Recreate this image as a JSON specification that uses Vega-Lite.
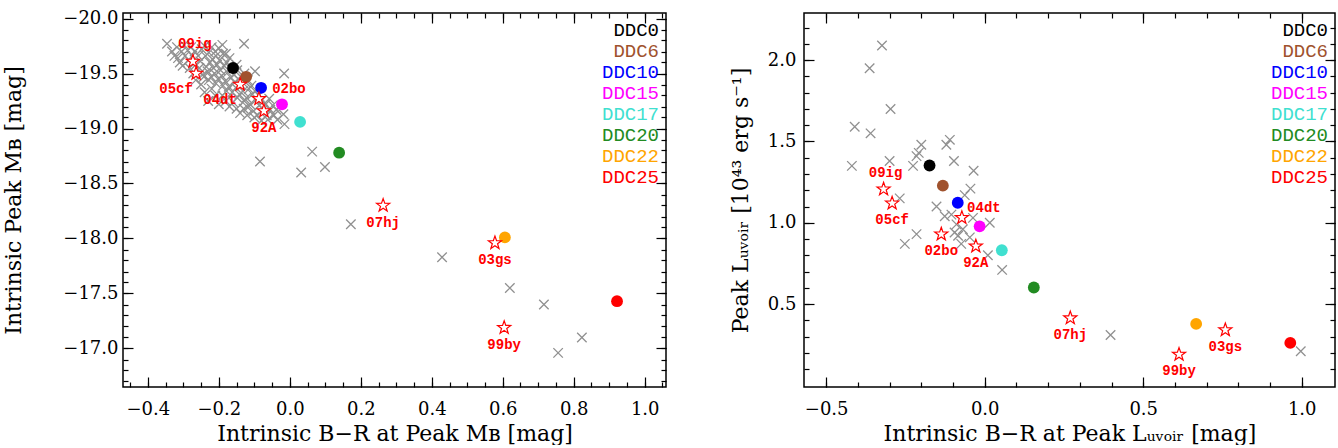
{
  "$schema": "https://vega.github.io/schema/vega-lite/v6.json",
  "padding": {"left": 1, "top": 8, "right": 2, "bottom": 0},
  "background": "white",
  "spacing": 138,
  "bounds": "flush",
  "config": {
    "view": {"stroke": "black", "strokeWidth": 1.5},
    "axis": {"labelFont": "DejaVu Serif", "titleFont": "DejaVu Serif", "labelFontSize": 18, "titleFontSize": 22, "labelColor": "black", "titleColor": "black", "titleFontWeight": "normal", "grid": false, "domain": false, "tickColor": "black", "tickWidth": 1.2, "labelFlush": false, "labelOverlap": false}
  },
  "resolve": {"legend": {"color": "independent"}},
  "datasets": {
    "ddc": [
      {"model": "DDC0", "xL": -0.160, "yL": -19.55, "xR": -0.174, "yR": 1.352},
      {"model": "DDC6", "xL": -0.123, "yL": -19.47, "xR": -0.132, "yR": 1.228},
      {"model": "DDC10", "xL": -0.081, "yL": -19.37, "xR": -0.085, "yR": 1.123},
      {"model": "DDC15", "xL": -0.022, "yL": -19.22, "xR": -0.016, "yR": 0.978},
      {"model": "DDC17", "xL": 0.029, "yL": -19.06, "xR": 0.054, "yR": 0.831},
      {"model": "DDC20", "xL": 0.139, "yL": -18.78, "xR": 0.155, "yR": 0.602},
      {"model": "DDC22", "xL": 0.606, "yL": -18.01, "xR": 0.667, "yR": 0.378},
      {"model": "DDC25", "xL": 0.922, "yL": -17.43, "xR": 0.964, "yR": 0.261}
    ],
    "sn": [
      {"sn": "09ig", "xL": -0.273, "yL": -19.61, "xR": -0.319, "yR": 1.207},
      {"sn": "05cf", "xL": -0.264, "yL": -19.50, "xR": -0.292, "yR": 1.120},
      {"sn": "04dt", "xL": -0.140, "yL": -19.40, "xR": -0.072, "yR": 1.031},
      {"sn": "02bo", "xL": -0.087, "yL": -19.27, "xR": -0.137, "yR": 0.930},
      {"sn": "92A", "xL": -0.073, "yL": -19.16, "xR": -0.028, "yR": 0.856},
      {"sn": "07hj", "xL": 0.263, "yL": -18.30, "xR": 0.270, "yR": 0.414},
      {"sn": "03gs", "xL": 0.578, "yL": -17.96, "xR": 0.759, "yR": 0.341},
      {"sn": "99by", "xL": 0.604, "yL": -17.19, "xR": 0.613, "yR": 0.190}
    ],
    "grayL": [
      {"x": -0.346, "y": -19.77}, {"x": -0.129, "y": -19.77}, {"x": -0.098, "y": -19.52}, {"x": -0.016, "y": -19.50},
      {"x": -0.084, "y": -18.70}, {"x": 0.063, "y": -18.79}, {"x": 0.099, "y": -18.65}, {"x": 0.032, "y": -18.60},
      {"x": 0.172, "y": -18.13}, {"x": 0.429, "y": -17.83}, {"x": 0.620, "y": -17.55}, {"x": 0.716, "y": -17.40},
      {"x": 0.823, "y": -17.10}, {"x": 0.756, "y": -16.96},
      {"x": -0.332, "y": -19.70}, {"x": -0.325, "y": -19.66}, {"x": -0.318, "y": -19.74}, {"x": -0.315, "y": -19.64},
      {"x": -0.305, "y": -19.70}, {"x": -0.310, "y": -19.60}, {"x": -0.298, "y": -19.76}, {"x": -0.295, "y": -19.66},
      {"x": -0.302, "y": -19.57}, {"x": -0.288, "y": -19.71}, {"x": -0.285, "y": -19.62}, {"x": -0.278, "y": -19.74},
      {"x": -0.275, "y": -19.66}, {"x": -0.282, "y": -19.55}, {"x": -0.268, "y": -19.70}, {"x": -0.265, "y": -19.58},
      {"x": -0.272, "y": -19.50}, {"x": -0.258, "y": -19.66}, {"x": -0.255, "y": -19.55}, {"x": -0.248, "y": -19.72},
      {"x": -0.252, "y": -19.61}, {"x": -0.245, "y": -19.49}, {"x": -0.238, "y": -19.66}, {"x": -0.235, "y": -19.56},
      {"x": -0.242, "y": -19.47}, {"x": -0.228, "y": -19.69}, {"x": -0.225, "y": -19.60}, {"x": -0.232, "y": -19.52},
      {"x": -0.228, "y": -19.44}, {"x": -0.218, "y": -19.63}, {"x": -0.215, "y": -19.55}, {"x": -0.222, "y": -19.47},
      {"x": -0.208, "y": -19.66}, {"x": -0.205, "y": -19.58}, {"x": -0.212, "y": -19.50}, {"x": -0.208, "y": -19.41},
      {"x": -0.198, "y": -19.62}, {"x": -0.195, "y": -19.53}, {"x": -0.202, "y": -19.45}, {"x": -0.188, "y": -19.68},
      {"x": -0.185, "y": -19.57}, {"x": -0.192, "y": -19.48}, {"x": -0.188, "y": -19.39}, {"x": -0.178, "y": -19.60},
      {"x": -0.175, "y": -19.51}, {"x": -0.182, "y": -19.43}, {"x": -0.178, "y": -19.34}, {"x": -0.168, "y": -19.55},
      {"x": -0.165, "y": -19.46}, {"x": -0.172, "y": -19.38}, {"x": -0.158, "y": -19.49}, {"x": -0.155, "y": -19.42},
      {"x": -0.162, "y": -19.33}, {"x": -0.148, "y": -19.53}, {"x": -0.145, "y": -19.45}, {"x": -0.152, "y": -19.37},
      {"x": -0.148, "y": -19.28}, {"x": -0.138, "y": -19.47}, {"x": -0.135, "y": -19.39}, {"x": -0.142, "y": -19.31},
      {"x": -0.128, "y": -19.50}, {"x": -0.125, "y": -19.42}, {"x": -0.132, "y": -19.34}, {"x": -0.128, "y": -19.25},
      {"x": -0.118, "y": -19.44}, {"x": -0.115, "y": -19.36}, {"x": -0.122, "y": -19.28}, {"x": -0.118, "y": -19.19},
      {"x": -0.108, "y": -19.39}, {"x": -0.105, "y": -19.31}, {"x": -0.112, "y": -19.22}, {"x": -0.098, "y": -19.34},
      {"x": -0.095, "y": -19.26}, {"x": -0.102, "y": -19.16}, {"x": -0.088, "y": -19.30}, {"x": -0.085, "y": -19.21},
      {"x": -0.092, "y": -19.12}, {"x": -0.078, "y": -19.26}, {"x": -0.075, "y": -19.17}, {"x": -0.068, "y": -19.22},
      {"x": -0.065, "y": -19.12}, {"x": -0.058, "y": -19.27}, {"x": -0.055, "y": -19.17}, {"x": -0.062, "y": -19.08},
      {"x": -0.048, "y": -19.21}, {"x": -0.045, "y": -19.12}, {"x": -0.038, "y": -19.17}, {"x": -0.035, "y": -19.08},
      {"x": -0.018, "y": -19.13}, {"x": -0.015, "y": -19.04},
      {"x": -0.240, "y": -19.75}, {"x": -0.220, "y": -19.74}, {"x": -0.200, "y": -19.73}, {"x": -0.190, "y": -19.76},
      {"x": -0.210, "y": -19.70}, {"x": -0.180, "y": -19.68}, {"x": -0.170, "y": -19.64}, {"x": -0.150, "y": -19.58},
      {"x": -0.250, "y": -19.40}, {"x": -0.230, "y": -19.25}, {"x": -0.240, "y": -19.33}, {"x": -0.220, "y": -19.36},
      {"x": -0.210, "y": -19.30}, {"x": -0.200, "y": -19.22}, {"x": -0.190, "y": -19.30}, {"x": -0.180, "y": -19.25},
      {"x": -0.170, "y": -19.20}, {"x": -0.160, "y": -19.24}, {"x": -0.150, "y": -19.18}, {"x": -0.140, "y": -19.14},
      {"x": -0.130, "y": -19.18}, {"x": -0.120, "y": -19.12}, {"x": -0.100, "y": -19.10}, {"x": -0.080, "y": -19.07},
      {"x": -0.265, "y": -19.44}
    ],
    "grayR": [
      {"x": -0.324, "y": 2.09}, {"x": -0.363, "y": 1.95}, {"x": -0.297, "y": 1.70}, {"x": -0.410, "y": 1.59},
      {"x": -0.360, "y": 1.55}, {"x": -0.419, "y": 1.35}, {"x": -0.300, "y": 1.38}, {"x": -0.200, "y": 1.48},
      {"x": -0.215, "y": 1.41}, {"x": -0.226, "y": 1.35}, {"x": -0.208, "y": 1.43}, {"x": -0.121, "y": 1.48},
      {"x": -0.110, "y": 1.51}, {"x": -0.097, "y": 1.38}, {"x": -0.035, "y": 1.32}, {"x": -0.045, "y": 1.21},
      {"x": -0.063, "y": 1.17}, {"x": -0.152, "y": 1.10}, {"x": -0.268, "y": 1.15}, {"x": -0.105, "y": 1.05},
      {"x": -0.215, "y": 0.93}, {"x": -0.252, "y": 0.87}, {"x": -0.095, "y": 0.94}, {"x": -0.084, "y": 0.92},
      {"x": -0.089, "y": 0.99}, {"x": -0.074, "y": 0.87}, {"x": -0.047, "y": 0.91}, {"x": 0.016, "y": 1.00},
      {"x": 0.010, "y": 0.80}, {"x": 0.055, "y": 0.71}, {"x": -0.037, "y": 1.03}, {"x": 0.397, "y": 0.31},
      {"x": 0.997, "y": 0.21}, {"x": -0.126, "y": 1.04}, {"x": -0.069, "y": 0.96}
    ]
  },
  "hconcat": [
    {
      "width": 543,
      "height": 374,
      "resolve": {"axis": {"x": "independent", "y": "independent"}},
      "layer": [
        {
          "data": {"name": "grayL"},
          "mark": {"type": "point", "shape": "M-1,-1L1,1M-1,1L1,-1", "filled": false, "stroke": "#909090", "strokeWidth": 1.3, "size": 90, "opacity": 1},
          "encoding": {
            "x": {"field": "x", "type": "quantitative", "scale": {"domain": [-0.47, 1.06], "nice": false, "zero": false},
              "axis": {"orient": "bottom", "values": [-0.4, -0.2, 0, 0.2, 0.4, 0.6, 0.8, 1.0], "format": ".1f", "ticks": false, "labelPadding": 13, "minExtent": 33, "maxExtent": 33, "title": "Intrinsic B−R at Peak Mʙ [mag]", "titlePadding": 3}},
            "y": {"field": "y", "type": "quantitative", "scale": {"domain": [-20.05, -16.65], "nice": false, "zero": false, "reverse": true},
              "axis": {"orient": "left", "values": [-20, -19.5, -19, -18.5, -18, -17.5, -17], "format": ".1f", "ticks": false, "labelPadding": 5, "minExtent": 60, "maxExtent": 60, "title": "Intrinsic Peak Mʙ [mag]", "titlePadding": 38}}
          }
        },
        {
          "data": {"name": "ddc"},
          "mark": {"type": "circle", "size": 140, "opacity": 1},
          "encoding": {
            "x": {"field": "xL", "type": "quantitative", "scale": {"domain": [-0.47, 1.06], "nice": false, "zero": false},
              "axis": {"orient": "bottom", "values": [-0.4, -0.2, 0, 0.2, 0.4, 0.6, 0.8, 1.0], "labels": false, "tickSize": -10, "title": null}},
            "y": {"field": "yL", "type": "quantitative", "scale": {"domain": [-20.05, -16.65], "nice": false, "zero": false, "reverse": true},
              "axis": {"orient": "left", "values": [-20, -19.5, -19, -18.5, -18, -17.5, -17], "labels": false, "tickSize": -10, "title": null}},
            "color": {"field": "model", "type": "nominal",
              "scale": {"domain": ["DDC0", "DDC6", "DDC10", "DDC15", "DDC17", "DDC20", "DDC22", "DDC25"], "range": ["#000000", "#a0522d", "#0000ff", "#ff00ff", "#40e0d0", "#228b22", "#ffa500", "#ff0000"]},
              "legend": {"orient": "top-right", "title": null, "offset": 7, "padding": 0, "symbolOpacity": 0, "symbolSize": 0, "symbolStrokeWidth": 0, "labelOffset": 0, "labelAlign": "right", "labelFont": "Liberation Mono", "labelFontSize": 19, "rowPadding": 1, "labelLimit": 300,
                "encode": {"labels": {"update": {"fill": {"signal": "datum.value==='DDC0'?'#000000':datum.value==='DDC6'?'#a0522d':datum.value==='DDC10'?'#0000ff':datum.value==='DDC15'?'#ff00ff':datum.value==='DDC17'?'#40e0d0':datum.value==='DDC20'?'#228b22':datum.value==='DDC22'?'#ffa500':'#ff0000'"}}}}}}
          }
        },
        {
          "data": {"name": "sn"},
          "mark": {"type": "point", "shape": "M0,-1L0.235,-0.324L0.951,-0.309L0.380,0.124L0.588,0.809L0,0.4L-0.588,0.809L-0.380,0.124L-0.951,-0.309L-0.235,-0.324Z", "filled": true, "fill": "white", "stroke": "red", "strokeWidth": 1.2, "size": 190, "opacity": 1},
          "encoding": {
            "x": {"field": "xL", "type": "quantitative", "scale": {"domain": [-0.47, 1.06], "nice": false, "zero": false},
              "axis": {"orient": "bottom", "values": [-0.45, -0.4, -0.35, -0.3, -0.25, -0.2, -0.15, -0.1, -0.05, 0, 0.05, 0.1, 0.15, 0.2, 0.25, 0.3, 0.35, 0.4, 0.45, 0.5, 0.55, 0.6, 0.65, 0.7, 0.75, 0.8, 0.85, 0.9, 0.95, 1.0, 1.05], "labels": false, "tickSize": -5, "title": null}},
            "y": {"field": "yL", "type": "quantitative", "scale": {"domain": [-20.05, -16.65], "nice": false, "zero": false, "reverse": true},
              "axis": {"orient": "left", "values": [-20, -19.9, -19.8, -19.7, -19.6, -19.5, -19.4, -19.3, -19.2, -19.1, -19, -18.9, -18.8, -18.7, -18.6, -18.5, -18.4, -18.3, -18.2, -18.1, -18, -17.9, -17.8, -17.7, -17.6, -17.5, -17.4, -17.3, -17.2, -17.1, -17, -16.9, -16.8, -16.7], "labels": false, "tickSize": -5, "title": null}}
          }
        },
        {
          "data": {"name": "sn"},
          "transform": [{"filter": {"field": "sn", "oneOf": ["92A", "07hj", "03gs", "99by"]}}],
          "mark": {"type": "text", "font": "Liberation Mono", "fontWeight": "bold", "fontSize": 14, "color": "red", "dy": 17, "align": "center", "baseline": "middle"},
          "encoding": {
            "x": {"field": "xL", "type": "quantitative", "scale": {"domain": [-0.47, 1.06], "nice": false, "zero": false},
              "axis": {"orient": "top", "values": [-0.4, -0.2, 0, 0.2, 0.4, 0.6, 0.8, 1.0], "labels": false, "tickSize": -10, "title": null}},
            "y": {"field": "yL", "type": "quantitative", "scale": {"domain": [-20.05, -16.65], "nice": false, "zero": false, "reverse": true},
              "axis": {"orient": "right", "values": [-20, -19.5, -19, -18.5, -18, -17.5, -17], "labels": false, "tickSize": -10, "title": null}},
            "text": {"field": "sn"}
          }
        },
        {
          "data": {"name": "sn"},
          "transform": [{"filter": {"field": "sn", "oneOf": ["09ig"]}}],
          "mark": {"type": "text", "font": "Liberation Mono", "fontWeight": "bold", "fontSize": 14, "color": "red", "dy": -17, "dx": 2, "align": "center", "baseline": "middle"},
          "encoding": {
            "x": {"field": "xL", "type": "quantitative", "scale": {"domain": [-0.47, 1.06], "nice": false, "zero": false},
              "axis": {"orient": "top", "values": [-0.45, -0.4, -0.35, -0.3, -0.25, -0.2, -0.15, -0.1, -0.05, 0, 0.05, 0.1, 0.15, 0.2, 0.25, 0.3, 0.35, 0.4, 0.45, 0.5, 0.55, 0.6, 0.65, 0.7, 0.75, 0.8, 0.85, 0.9, 0.95, 1.0, 1.05], "labels": false, "tickSize": -5, "title": null}},
            "y": {"field": "yL", "type": "quantitative", "scale": {"domain": [-20.05, -16.65], "nice": false, "zero": false, "reverse": true},
              "axis": {"orient": "right", "values": [-20, -19.9, -19.8, -19.7, -19.6, -19.5, -19.4, -19.3, -19.2, -19.1, -19, -18.9, -18.8, -18.7, -18.6, -18.5, -18.4, -18.3, -18.2, -18.1, -18, -17.9, -17.8, -17.7, -17.6, -17.5, -17.4, -17.3, -17.2, -17.1, -17, -16.9, -16.8, -16.7], "labels": false, "tickSize": -5, "title": null}},
            "text": {"field": "sn"}
          }
        },
        {
          "data": {"name": "sn"},
          "transform": [{"filter": {"field": "sn", "oneOf": ["02bo"]}}],
          "mark": {"type": "text", "font": "Liberation Mono", "fontWeight": "bold", "fontSize": 14, "color": "red", "dx": 30, "dy": -10, "align": "center", "baseline": "middle"},
          "encoding": {
            "x": {"field": "xL", "type": "quantitative", "scale": {"domain": [-0.47, 1.06], "nice": false, "zero": false}, "axis": null},
            "y": {"field": "yL", "type": "quantitative", "scale": {"domain": [-20.05, -16.65], "nice": false, "zero": false, "reverse": true}, "axis": null},
            "text": {"field": "sn"}
          }
        },
        {
          "data": {"name": "sn"},
          "transform": [{"filter": {"field": "sn", "oneOf": ["05cf", "04dt"]}}],
          "mark": {"type": "text", "font": "Liberation Mono", "fontWeight": "bold", "fontSize": 14, "color": "red", "dx": -20, "dy": 15, "align": "center", "baseline": "middle"},
          "encoding": {
            "x": {"field": "xL", "type": "quantitative", "scale": {"domain": [-0.47, 1.06], "nice": false, "zero": false}, "axis": null},
            "y": {"field": "yL", "type": "quantitative", "scale": {"domain": [-20.05, -16.65], "nice": false, "zero": false, "reverse": true}, "axis": null},
            "text": {"field": "sn"}
          }
        }
      ]
    },
    {
      "width": 531,
      "height": 374,
      "resolve": {"axis": {"x": "independent", "y": "independent"}},
      "layer": [
        {
          "data": {"name": "grayR"},
          "mark": {"type": "point", "shape": "M-1,-1L1,1M-1,1L1,-1", "filled": false, "stroke": "#909090", "strokeWidth": 1.3, "size": 90, "opacity": 1},
          "encoding": {
            "x": {"field": "x", "type": "quantitative", "scale": {"domain": [-0.57, 1.105], "nice": false, "zero": false},
              "axis": {"orient": "bottom", "values": [-0.5, 0, 0.5, 1.0], "format": ".1f", "ticks": false, "labelPadding": 13, "minExtent": 33, "maxExtent": 33, "title": "Intrinsic B−R at Peak Lᵤᵥₒᵢᵣ [mag]", "titlePadding": 3}},
            "y": {"field": "y", "type": "quantitative", "scale": {"domain": [-0.01, 2.29], "nice": false, "zero": false},
              "axis": {"orient": "left", "values": [0.5, 1.0, 1.5, 2.0], "format": ".1f", "ticks": false, "labelPadding": 8, "minExtent": 36, "maxExtent": 36, "title": "Peak Lᵤᵥₒᵢᵣ [10⁴³ erg s⁻¹]", "titlePadding": 16}}
          }
        },
        {
          "data": {"name": "ddc"},
          "mark": {"type": "circle", "size": 140, "opacity": 1},
          "encoding": {
            "x": {"field": "xR", "type": "quantitative", "scale": {"domain": [-0.57, 1.105], "nice": false, "zero": false},
              "axis": {"orient": "bottom", "values": [-0.5, 0, 0.5, 1.0], "labels": false, "tickSize": -10, "title": null}},
            "y": {"field": "yR", "type": "quantitative", "scale": {"domain": [-0.01, 2.29], "nice": false, "zero": false},
              "axis": {"orient": "left", "values": [0.5, 1.0, 1.5, 2.0], "labels": false, "tickSize": -10, "title": null}},
            "color": {"field": "model", "type": "nominal",
              "scale": {"domain": ["DDC0", "DDC6", "DDC10", "DDC15", "DDC17", "DDC20", "DDC22", "DDC25"], "range": ["#000000", "#a0522d", "#0000ff", "#ff00ff", "#40e0d0", "#228b22", "#ffa500", "#ff0000"]},
              "legend": {"orient": "top-right", "title": null, "offset": 7, "padding": 0, "symbolOpacity": 0, "symbolSize": 0, "symbolStrokeWidth": 0, "labelOffset": 0, "labelAlign": "right", "labelFont": "Liberation Mono", "labelFontSize": 19, "rowPadding": 1, "labelLimit": 300,
                "encode": {"labels": {"update": {"fill": {"signal": "datum.value==='DDC0'?'#000000':datum.value==='DDC6'?'#a0522d':datum.value==='DDC10'?'#0000ff':datum.value==='DDC15'?'#ff00ff':datum.value==='DDC17'?'#40e0d0':datum.value==='DDC20'?'#228b22':datum.value==='DDC22'?'#ffa500':'#ff0000'"}}}}}}
          }
        },
        {
          "data": {"name": "sn"},
          "mark": {"type": "point", "shape": "M0,-1L0.235,-0.324L0.951,-0.309L0.380,0.124L0.588,0.809L0,0.4L-0.588,0.809L-0.380,0.124L-0.951,-0.309L-0.235,-0.324Z", "filled": true, "fill": "white", "stroke": "red", "strokeWidth": 1.2, "size": 190, "opacity": 1},
          "encoding": {
            "x": {"field": "xR", "type": "quantitative", "scale": {"domain": [-0.57, 1.105], "nice": false, "zero": false},
              "axis": {"orient": "bottom", "values": [-0.5, -0.4, -0.3, -0.2, -0.1, 0, 0.1, 0.2, 0.3, 0.4, 0.5, 0.6, 0.7, 0.8, 0.9, 1.0], "labels": false, "tickSize": -5, "title": null}},
            "y": {"field": "yR", "type": "quantitative", "scale": {"domain": [-0.01, 2.29], "nice": false, "zero": false},
              "axis": {"orient": "left", "values": [0.1, 0.2, 0.3, 0.4, 0.5, 0.6, 0.7, 0.8, 0.9, 1.0, 1.1, 1.2, 1.3, 1.4, 1.5, 1.6, 1.7, 1.8, 1.9, 2.0, 2.1, 2.2], "labels": false, "tickSize": -5, "title": null}}
          }
        },
        {
          "data": {"name": "sn"},
          "transform": [{"filter": {"field": "sn", "oneOf": ["05cf", "02bo", "92A", "07hj", "03gs", "99by"]}}],
          "mark": {"type": "text", "font": "Liberation Mono", "fontWeight": "bold", "fontSize": 14, "color": "red", "dy": 17, "align": "center", "baseline": "middle"},
          "encoding": {
            "x": {"field": "xR", "type": "quantitative", "scale": {"domain": [-0.57, 1.105], "nice": false, "zero": false},
              "axis": {"orient": "top", "values": [-0.5, 0, 0.5, 1.0], "labels": false, "tickSize": -10, "title": null}},
            "y": {"field": "yR", "type": "quantitative", "scale": {"domain": [-0.01, 2.29], "nice": false, "zero": false},
              "axis": {"orient": "right", "values": [0.5, 1.0, 1.5, 2.0], "labels": false, "tickSize": -10, "title": null}},
            "text": {"field": "sn"}
          }
        },
        {
          "data": {"name": "sn"},
          "transform": [{"filter": {"field": "sn", "oneOf": ["09ig"]}}],
          "mark": {"type": "text", "font": "Liberation Mono", "fontWeight": "bold", "fontSize": 14, "color": "red", "dy": -16, "dx": 2, "align": "center", "baseline": "middle"},
          "encoding": {
            "x": {"field": "xR", "type": "quantitative", "scale": {"domain": [-0.57, 1.105], "nice": false, "zero": false},
              "axis": {"orient": "top", "values": [-0.5, -0.4, -0.3, -0.2, -0.1, 0, 0.1, 0.2, 0.3, 0.4, 0.5, 0.6, 0.7, 0.8, 0.9, 1.0], "labels": false, "tickSize": -5, "title": null}},
            "y": {"field": "yR", "type": "quantitative", "scale": {"domain": [-0.01, 2.29], "nice": false, "zero": false},
              "axis": {"orient": "right", "values": [0.1, 0.2, 0.3, 0.4, 0.5, 0.6, 0.7, 0.8, 0.9, 1.0, 1.1, 1.2, 1.3, 1.4, 1.5, 1.6, 1.7, 1.8, 1.9, 2.0, 2.1, 2.2], "labels": false, "tickSize": -5, "title": null}},
            "text": {"field": "sn"}
          }
        },
        {
          "data": {"name": "sn"},
          "transform": [{"filter": {"field": "sn", "oneOf": ["04dt"]}}],
          "mark": {"type": "text", "font": "Liberation Mono", "fontWeight": "bold", "fontSize": 14, "color": "red", "dx": 22, "dy": -10, "align": "center", "baseline": "middle"},
          "encoding": {
            "x": {"field": "xR", "type": "quantitative", "scale": {"domain": [-0.57, 1.105], "nice": false, "zero": false}, "axis": null},
            "y": {"field": "yR", "type": "quantitative", "scale": {"domain": [-0.01, 2.29], "nice": false, "zero": false}, "axis": null},
            "text": {"field": "sn"}
          }
        }
      ]
    }
  ]
}
